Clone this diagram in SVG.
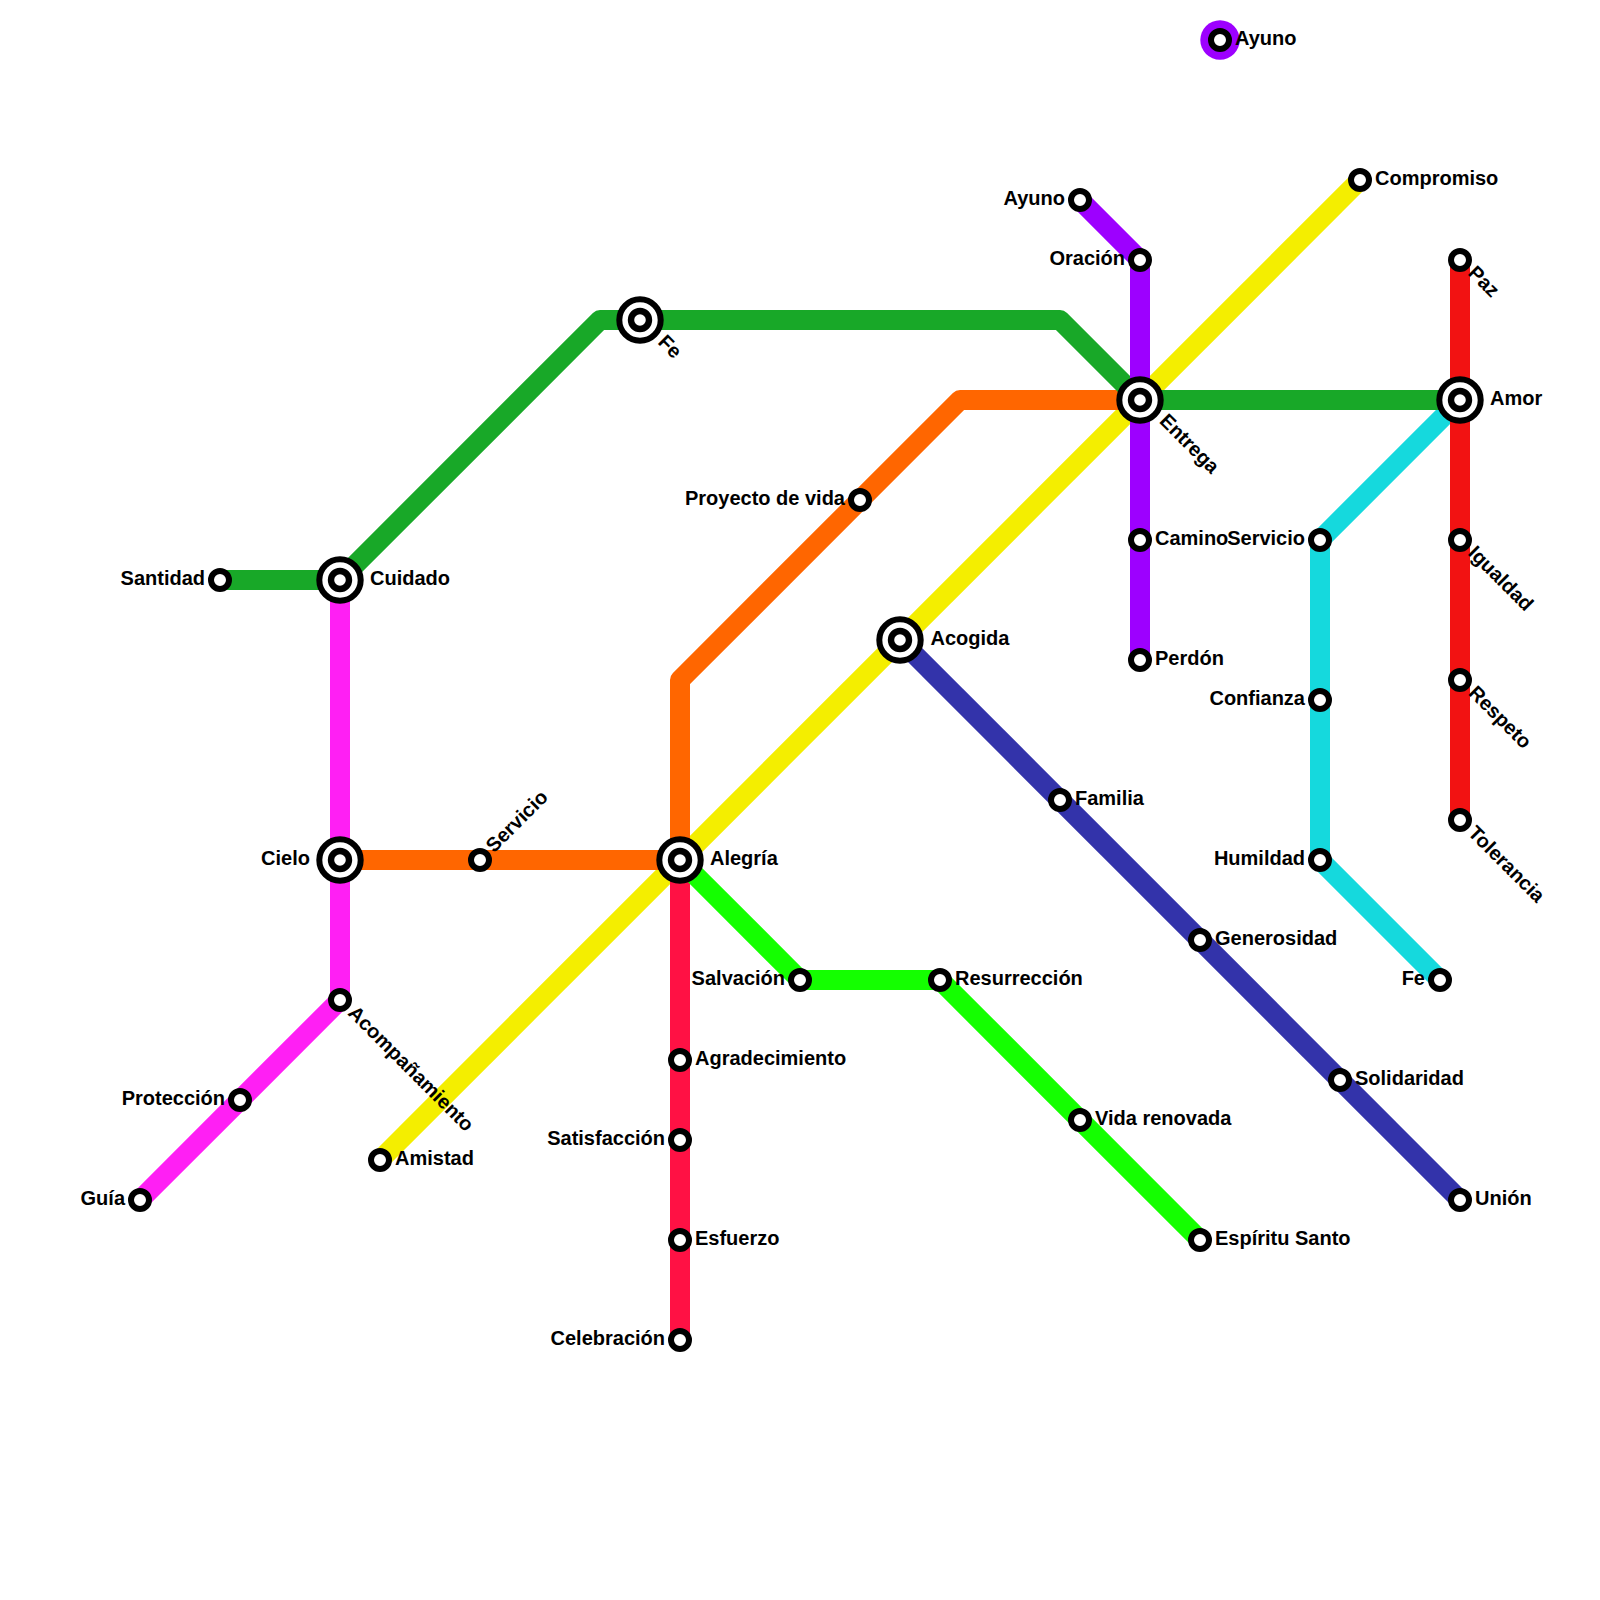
<svg xmlns="http://www.w3.org/2000/svg" width="1600" height="1600" viewBox="0 0 1600 1600">
<style>
.l{fill:none;stroke-width:20;stroke-linejoin:round;stroke-linecap:butt}
.s{fill:#fff;stroke:#000;stroke-width:6}
.o{fill:#fff;stroke:#000;stroke-width:6}
.i{fill:#fff;stroke:#000;stroke-width:6.4}
text{font-family:"Liberation Sans",Arial,sans-serif;font-weight:700;font-size:20px;fill:#000}
.e{text-anchor:end}
</style>
<defs>
<g id="st"><circle class="s" r="9"/></g>
<g id="ic"><circle class="o" r="20.7"/><circle class="i" r="9"/></g>
</defs>
<g id="connectors">
<path class="l" stroke="#15d9dd" d="M1460 400L1320 540V860L1440 980"/>
<path class="l" stroke="#f4ee00" d="M380 1160L1360 180"/>
<path class="l" stroke="#ff6600" d="M340 860H680V680L960 400H1140"/>
<path class="l" stroke="#f21212" d="M1460 260V820"/>
<path class="l" stroke="#18a828" d="M220 580H340L600 320H1060L1140 400H1460"/>
<path class="l" stroke="#ff1ff4" d="M340 580V1000L140 1200"/>
<path class="l" stroke="#3333aa" d="M900 640L1460 1200"/>
<path class="l" stroke="#9d00ff" d="M1080 200L1140 260V660"/>
<path class="l" stroke="#ff1144" d="M680 860V1340"/>
<path class="l" stroke="#14ff00" d="M680 860L800 980H940L1200 1240"/>
<circle cx="1220" cy="40" r="19.7" fill="#9d00ff"/>
</g>
<g id="n-ayuno2"><use href="#st" x="1220" y="40"/><text x="1235" y="45">Ayuno</text></g>
<g id="n-ayuno"><use href="#st" x="1080" y="200"/><text class="e" x="1065" y="205">Ayuno</text></g>
<g id="n-oracion"><use href="#st" x="1140" y="260"/><text class="e" x="1125" y="265">Oración</text></g>
<g id="n-compromiso"><use href="#st" x="1360" y="180"/><text x="1375" y="185">Compromiso</text></g>
<g id="n-paz"><use href="#st" x="1460" y="260"/><text transform="translate(1467 274) rotate(45)">Paz</text></g>
<g id="n-fe"><use href="#ic" x="640" y="320"/><text transform="translate(657 343) rotate(45)">Fe</text></g>
<g id="n-entrega"><use href="#ic" x="1140" y="400"/><text transform="translate(1158.5 422) rotate(45)">Entrega</text></g>
<g id="n-amor"><use href="#ic" x="1460" y="400"/><text x="1490" y="405">Amor</text></g>
<g id="n-proyecto"><use href="#st" x="860" y="500"/><text class="e" x="845" y="505">Proyecto de vida</text></g>
<g id="n-camino"><use href="#st" x="1140" y="540"/><text x="1155" y="545">Camino</text></g>
<g id="n-servicio"><use href="#st" x="1320" y="540"/><text class="e" x="1305" y="545">Servicio</text></g>
<g id="n-igualdad"><use href="#st" x="1460" y="540"/><text transform="translate(1467 554) rotate(45)">Igualdad</text></g>
<g id="n-santidad"><use href="#st" x="220" y="580"/><text class="e" x="205" y="585">Santidad</text></g>
<g id="n-cuidado"><use href="#ic" x="340" y="580"/><text x="370" y="585">Cuidado</text></g>
<g id="n-acogida"><use href="#ic" x="900" y="640"/><text x="930.5" y="645">Acogida</text></g>
<g id="n-perdon"><use href="#st" x="1140" y="660"/><text x="1155" y="665">Perdón</text></g>
<g id="n-respeto"><use href="#st" x="1460" y="680"/><text transform="translate(1467.5 694) rotate(45)">Respeto</text></g>
<g id="n-confianza"><use href="#st" x="1320" y="700"/><text class="e" x="1305" y="705">Confianza</text></g>
<g id="n-familia"><use href="#st" x="1060" y="800"/><text x="1075" y="805">Familia</text></g>
<g id="n-tolerancia"><use href="#st" x="1460" y="820"/><text transform="translate(1467 834) rotate(45)">Tolerancia</text></g>
<g id="n-cielo"><use href="#ic" x="340" y="860"/><text class="e" x="310" y="865">Cielo</text></g>
<g id="n-servicio2"><use href="#st" x="480" y="860"/><text transform="translate(494 853.5) rotate(-45)">Servicio</text></g>
<g id="n-alegria"><use href="#ic" x="680" y="860"/><text x="710" y="865">Alegría</text></g>
<g id="n-humildad"><use href="#st" x="1320" y="860"/><text class="e" x="1305" y="865">Humildad</text></g>
<g id="n-generosidad"><use href="#st" x="1200" y="940"/><text x="1215" y="945">Generosidad</text></g>
<g id="n-salvacion"><use href="#st" x="800" y="980"/><text class="e" x="785" y="985">Salvación</text></g>
<g id="n-resurreccion"><use href="#st" x="940" y="980"/><text x="955" y="985">Resurrección</text></g>
<g id="n-fe2"><use href="#st" x="1440" y="980"/><text class="e" x="1425" y="985">Fe</text></g>
<g id="n-acompanamiento"><use href="#st" x="340" y="1000"/><text transform="translate(347 1014) rotate(45)">Acompañamiento</text></g>
<g id="n-agradecimiento"><use href="#st" x="680" y="1060"/><text x="695" y="1065">Agradecimiento</text></g>
<g id="n-solidaridad"><use href="#st" x="1340" y="1080"/><text x="1355" y="1085">Solidaridad</text></g>
<g id="n-proteccion"><use href="#st" x="240" y="1100"/><text class="e" x="225" y="1105">Protección</text></g>
<g id="n-vida"><use href="#st" x="1080" y="1120"/><text x="1095" y="1125">Vida renovada</text></g>
<g id="n-satisfaccion"><use href="#st" x="680" y="1140"/><text class="e" x="665" y="1145">Satisfacción</text></g>
<g id="n-amistad"><use href="#st" x="380" y="1160"/><text x="395" y="1165">Amistad</text></g>
<g id="n-guia"><use href="#st" x="140" y="1200"/><text class="e" x="125" y="1205">Guía</text></g>
<g id="n-union"><use href="#st" x="1460" y="1200"/><text x="1475" y="1205">Unión</text></g>
<g id="n-esfuerzo"><use href="#st" x="680" y="1240"/><text x="695" y="1245">Esfuerzo</text></g>
<g id="n-espiritu"><use href="#st" x="1200" y="1240"/><text x="1215" y="1245">Espíritu Santo</text></g>
<g id="n-celebracion"><use href="#st" x="680" y="1340"/><text class="e" x="665" y="1345">Celebración</text></g>
</svg>
